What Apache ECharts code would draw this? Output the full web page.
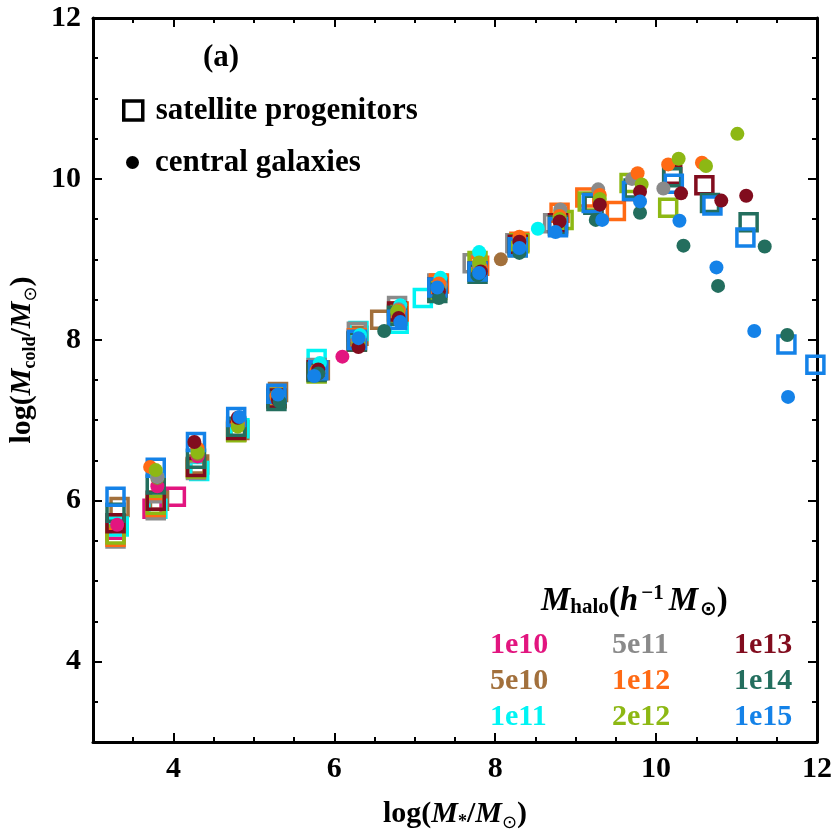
<!DOCTYPE html>
<html>
<head>
<meta charset="utf-8">
<script src="https://cdn.jsdelivr.net/npm/echarts@6/dist/echarts.min.js"></script>
<style>
  html, body { margin: 0; padding: 0; background: #fff; }
  #chart { width: 834px; height: 834px; }
</style>
</head>
<body>
<div id="chart"></div>
<script>
// halo masses (h^-1 Msun) and their colours
var haloNames = ["1e10", "5e10", "1e11", "5e11", "1e12", "2e12", "1e13", "1e14", "1e15"];
var haloColors = ["#e2157f", "#a2703c", "#00f4f4", "#8a8a8a", "#ff6a14", "#8db814", "#810c1e", "#236e5e", "#1482e8"];

// satellite progenitors [log M*, log Mcold]
var sat_1e10 = [[3.28, 5.64], [3.74, 5.9], [4.03, 6.05]];
var sat_5e10 = [[3.33, 5.92], [3.82, 6.0], [4.32, 6.45], [4.82, 6.88], [5.3, 7.35], [5.82, 7.62], [6.3, 8.05], [6.57, 8.25]];
var sat_1e11 = [[3.32, 5.68], [3.8, 5.9], [4.32, 6.37], [4.82, 6.9], [5.28, 7.28], [5.78, 7.76], [6.3, 8.11], [6.8, 8.2], [7.1, 8.52]];
var sat_5e11 = [[3.28, 5.53], [3.78, 5.88], [4.28, 6.38], [4.78, 6.86], [5.28, 7.3], [5.78, 7.65], [6.28, 8.1], [6.78, 8.42], [7.28, 8.7], [7.72, 8.95], [8.25, 9.2], [8.72, 9.45]];
var sat_1e12 = [[3.28, 5.55], [3.78, 5.92], [4.28, 6.42], [4.78, 6.86], [5.28, 7.28], [5.78, 7.6], [6.28, 8.02], [6.8, 8.35], [7.3, 8.7], [7.8, 8.92], [8.3, 9.22], [8.8, 9.58], [9.12, 9.77], [9.5, 9.6]];
var sat_2e12 = [[3.28, 5.58], [3.78, 5.95], [4.28, 6.4], [4.78, 6.85], [5.28, 7.28], [5.78, 7.58], [6.28, 7.98], [6.78, 8.32], [7.28, 8.62], [7.78, 8.98], [8.3, 9.2], [8.85, 9.49], [9.15, 9.72], [9.67, 9.95], [10.15, 9.64]];
var sat_1e13 = [[3.28, 5.72], [3.78, 6.0], [4.28, 6.42], [4.78, 6.88], [5.28, 7.27], [5.78, 7.62], [6.28, 7.98], [6.78, 8.35], [7.28, 8.65], [7.78, 8.85], [8.28, 9.18], [8.78, 9.45], [9.22, 9.7], [9.72, 9.85], [10.2, 10.05], [10.6, 9.92]];
var sat_1e14 = [[3.28, 5.85], [3.78, 6.2], [4.28, 6.52], [4.78, 6.92], [5.28, 7.24], [5.78, 7.6], [6.28, 7.98], [6.78, 8.3], [7.28, 8.58], [7.78, 8.82], [8.28, 9.15], [8.78, 9.42], [9.22, 9.68], [9.72, 9.88], [10.2, 10.02], [10.67, 9.7], [11.15, 9.46]];
var sat_1e15 = [[3.28, 6.05], [3.78, 6.41], [4.28, 6.73], [4.78, 7.04], [5.28, 7.33], [5.8, 7.62], [6.28, 8.0], [6.78, 8.25], [7.28, 8.65], [7.78, 8.85], [8.28, 9.15], [8.78, 9.4], [9.2, 9.7], [9.7, 9.85], [10.22, 9.94], [10.7, 9.67], [11.11, 9.27], [11.62, 7.94], [11.98, 7.69]];

// central galaxies [log M*, log Mcold]
var cen_1e10 = [[3.3, 5.7], [3.8, 6.18], [4.3, 6.55], [4.8, 6.95], [5.3, 7.25], [5.8, 7.58], [6.1, 7.79]];
var cen_5e10 = [[3.8, 6.28], [4.3, 6.58], [4.8, 6.97], [5.3, 7.28], [5.8, 7.6], [6.3, 7.95], [6.8, 8.3], [7.3, 8.62], [7.8, 8.9], [8.07, 9.0]];
var cen_1e11 = [[3.8, 6.3], [4.3, 6.62], [4.8, 7.0], [5.3, 7.3], [5.82, 7.71], [6.32, 8.06], [6.82, 8.43], [7.32, 8.77], [7.8, 9.09], [8.53, 9.38]];
var cen_5e11 = [[3.8, 6.3], [4.3, 6.62], [4.8, 6.96], [5.3, 7.3], [5.8, 7.62], [6.3, 8.0], [6.8, 8.38], [7.32, 8.68], [7.8, 8.93], [8.3, 9.2], [8.81, 9.62], [9.28, 9.87], [9.7, 10.0], [10.09, 9.88]];
var cen_1e12 = [[3.71, 6.42], [4.3, 6.65], [4.8, 6.98], [5.28, 7.3], [5.78, 7.62], [6.3, 8.0], [6.8, 8.36], [7.3, 8.7], [7.82, 8.9], [8.3, 9.28], [8.8, 9.54], [9.3, 9.8], [9.77, 10.07], [10.15, 10.18], [10.57, 10.2]];
var cen_2e12 = [[3.78, 6.38], [4.3, 6.6], [4.8, 6.92], [5.3, 7.27], [5.8, 7.6], [6.3, 7.96], [6.78, 8.35], [7.3, 8.62], [7.8, 8.96], [8.3, 9.15], [8.8, 9.5], [9.3, 9.75], [9.82, 9.93], [10.28, 10.25], [10.62, 10.16], [11.01, 10.56]];
var cen_1e13 = [[4.26, 6.73], [4.8, 7.03], [5.3, 7.25], [5.8, 7.63], [6.3, 7.91], [6.8, 8.27], [7.3, 8.6], [7.82, 8.85], [8.3, 9.22], [8.8, 9.47], [9.3, 9.68], [9.8, 9.84], [10.31, 9.82], [10.81, 9.73], [11.12, 9.79]];
var cen_1e14 = [[5.32, 7.23], [5.8, 7.58], [6.62, 8.11], [7.3, 8.52], [7.78, 8.8], [8.3, 9.08], [9.25, 9.49], [9.8, 9.58], [10.34, 9.17], [10.77, 8.67], [11.35, 9.16], [11.63, 8.06]];
var cen_1e15 = [[4.82, 7.04], [5.3, 7.32], [5.75, 7.55], [6.3, 8.02], [6.82, 8.22], [7.28, 8.65], [7.8, 8.83], [8.3, 9.14], [8.75, 9.34], [9.33, 9.49], [9.8, 9.72], [10.29, 9.48], [10.75, 8.9], [11.22, 8.11], [11.64, 7.29]];

var satData = [sat_1e10, sat_5e10, sat_1e11, sat_5e11, sat_1e12, sat_2e12, sat_1e13, sat_1e14, sat_1e15];
var cenData = [cen_1e10, cen_5e10, cen_1e11, cen_5e11, cen_1e12, cen_2e12, cen_1e13, cen_1e14, cen_1e15];

var majorTicks = [4, 6, 8, 10, 12];

var serif = "'Liberation Serif', 'Times New Roman', 'DejaVu Serif', serif";

// one axis for the minor ticks (every 0.5) and one on top of it for the long major ticks
function makeAxis(pos, major, label) {
  var ax = {
    type: "value",
    position: pos,
    min: 3,
    max: 12,
    interval: 0.5,
    splitLine: { show: false },
    axisLine: { show: !major, lineStyle: { color: "#000", width: 3 } },
    axisTick: { show: true, inside: true, length: major ? 9 : 5, lineStyle: { color: "#000", width: 2 } },
    axisLabel: { show: false }
  };
  if (major) ax.axisTick.customValues = majorTicks;
  if (label) {
    ax.axisLabel = {
      show: true,
      customValues: majorTicks,
      color: "#000",
      fontFamily: serif,
      fontWeight: "bold",
      fontSize: 30,
      margin: 12
    };
  }
  return ax;
}

var sub = { fontFamily: serif, fontWeight: "bold", fontSize: 18, lineHeight: 18, padding: [16, 0, 0, 0], color: "#000" };
var nrm = { fontFamily: serif, fontWeight: "bold", fontSize: 30, lineHeight: 36, color: "#000" };
var ita = { fontFamily: serif, fontWeight: "bold", fontStyle: "italic", fontSize: 30, lineHeight: 36, color: "#000" };
var odot = { fontFamily: "'DejaVu Sans', sans-serif", fontSize: 18, lineHeight: 18, padding: [18, 0, 0, 0], color: "#000" };

var xAxes = [makeAxis("bottom", false, true), makeAxis("bottom", true, false), makeAxis("top", false, false), makeAxis("top", true, false)];
xAxes[0].name = "{n|log(}{i|M}{s|*}{n|/}{i|M}{o|⊙}{n|)}";
xAxes[0].nameLocation = "middle";
xAxes[0].nameGap = 54;
xAxes[0].nameTextStyle = { rich: { n: nrm, i: ita, s: sub, o: odot } };

var yAxes = [makeAxis("left", false, true), makeAxis("left", true, false), makeAxis("right", false, false), makeAxis("right", true, false)];
yAxes[0].name = "{n|log(}{i|M}{s|cold}{n|/}{i|M}{o|⊙}{n|)}";
yAxes[0].nameLocation = "middle";
yAxes[0].nameGap = 52;
yAxes[0].nameTextStyle = { rich: { n: nrm, i: ita, s: sub, o: odot }, padding: [0, 0, 0, 40] };

var series = [];
// shape legend entries
series.push({
  name: "satellite progenitors", type: "scatter", data: [],
  symbol: "rect", itemStyle: { color: "rgba(0,0,0,0)", borderColor: "#000", borderWidth: 3.5, opacity: 1 }
});
series.push({
  name: "central galaxies", type: "scatter", data: [],
  symbol: "circle", itemStyle: { color: "#000", opacity: 1 }
});
for (var i = 0; i < haloNames.length; i++) {
  series.push({
    name: haloNames[i],
    type: "scatter",
    symbol: "rect",
    symbolSize: 17,
    data: satData[i],
    itemStyle: { color: "rgba(255,255,255,0)", borderColor: haloColors[i], borderWidth: 3.5, opacity: 1 }
  });
}
for (var i = 0; i < haloNames.length; i++) {
  series.push({
    name: haloNames[i],
    type: "scatter",
    symbol: "circle",
    symbolSize: 14,
    data: cenData[i],
    itemStyle: { color: haloColors[i], opacity: 1 }
  });
}

var legendText = { fontFamily: serif, fontWeight: "bold", fontSize: 31, color: "#000" };

function haloLegend(idx, left) {
  return {
    orient: "vertical",
    left: left,
    top: 625,
    itemWidth: 0,
    itemHeight: 0,
    itemGap: 5,
    selectedMode: false,
    data: idx.map(function (k) {
      return { name: haloNames[k], icon: "none", textStyle: { color: haloColors[k] } };
    }),
    textStyle: { fontFamily: serif, fontWeight: "bold", fontSize: 30, lineHeight: 31, padding: 0 }
  };
}

var option = {
  backgroundColor: "#fff",
  animation: false,
  grid: { left: 93, top: 18, width: 724, height: 724, containLabel: false, outerBoundsMode: "none" },
  xAxis: xAxes,
  yAxis: yAxes,
  title: [
    { text: "(a)", left: 198, top: 37, textStyle: { fontFamily: serif, fontWeight: "bold", fontSize: 31, color: "#000" } },
    {
      text: "{i|M}{s|halo}{n|(}{i|h}{p|−1}{i|M}{o|⊙}{n|)}",
      left: 536,
      top: 578,
      textStyle: {
        rich: {
          n: Object.assign({}, nrm, { fontSize: 33 }),
          i: Object.assign({}, ita, { fontSize: 33 }),
          s: { fontFamily: serif, fontWeight: "bold", fontSize: 21, lineHeight: 21, padding: [14, 0, 0, 0], color: "#000" },
          p: { fontFamily: serif, fontWeight: "bold", fontSize: 21, lineHeight: 21, padding: [0, 5, 14, 3], color: "#000" },
          o: { fontFamily: "'DejaVu Sans', sans-serif", fontSize: 20, lineHeight: 20, padding: [18, 0, 0, 2], color: "#000" }
        }
      }
    }
  ],
  legend: [
    {
      left: 117, top: 90, itemWidth: 19, itemHeight: 19, selectedMode: false,
      itemStyle: { color: "rgba(0,0,0,0)", borderColor: "#000", borderWidth: 3.5, opacity: 1 },
      data: [{ name: "satellite progenitors", icon: "rect", itemStyle: { color: "rgba(0,0,0,0)", borderColor: "#000", borderWidth: 3.5, opacity: 1 } }],
      textStyle: Object.assign({ padding: [0, 0, 0, 8] }, legendText)
    },
    {
      left: 121, top: 142, itemWidth: 13, itemHeight: 13, selectedMode: false,
      itemStyle: { color: "#000", borderWidth: 0, opacity: 1 },
      data: [{ name: "central galaxies", icon: "circle", itemStyle: { color: "#000", borderWidth: 0, opacity: 1 } }],
      textStyle: Object.assign({ padding: [0, 0, 0, 11] }, legendText)
    },
    haloLegend([0, 1, 2], 480),
    haloLegend([3, 4, 5], 602),
    haloLegend([6, 7, 8], 724)
  ],
  series: series
};

var chart = echarts.init(document.getElementById("chart"));
chart.setOption(option);
</script>
</body>
</html>
